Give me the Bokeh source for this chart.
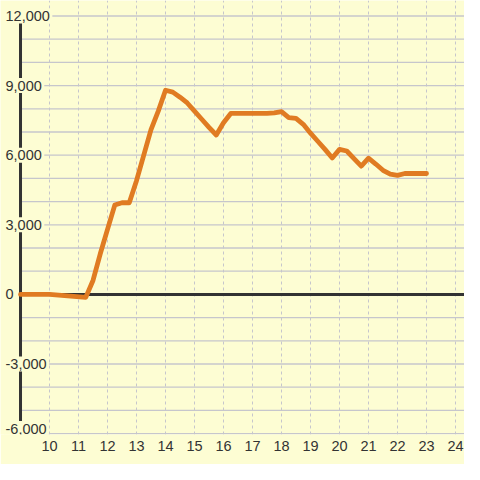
from bokeh.plotting import figure
from bokeh.models import Range1d, FixedTicker, LabelSet, ColumnDataSource
from bokeh.core.properties import value
from bokeh.embed import file_html
from bokeh.resources import INLINE

# ---- data ----
hours = [9, 10, 11.25, 11.5, 11.75, 12, 12.25, 12.5, 12.75, 13, 13.25, 13.5, 13.75,
         14, 14.25, 14.5, 14.75, 15, 15.25, 15.5, 15.75, 16, 16.25, 16.5, 16.75,
         17, 17.25, 17.5, 17.75, 18, 18.25, 18.5, 18.75, 19, 19.25, 19.5, 19.75,
         20, 20.25, 20.5, 20.75, 21, 21.25, 21.5, 21.75, 22, 22.25, 22.5, 22.75, 23]
values = [0, 0, -130, 600, 1750, 2800, 3850, 3950, 3950, 4900, 6000, 7100, 7900,
          8800, 8720, 8500, 8250, 7900, 7550, 7200, 6870, 7400, 7800, 7800, 7800,
          7800, 7800, 7800, 7820, 7880, 7620, 7590, 7330, 6950, 6600, 6250, 5880,
          6250, 6180, 5850, 5530, 5870, 5620, 5350, 5180, 5130, 5210, 5210, 5210, 5210]
y_ticks = [-6000, -3000, 0, 3000, 6000, 9000, 12000]
y_tick_labels = ["-6,000", "-3,000", "0", "3,000", "6,000", "9,000", "12,000"]
y_grid_step = 1000
x_ticks = list(range(10, 25))
x_tick_labels = [str(t) for t in x_ticks]

# ---- style ----
BG = "#fdfdd3"
GRID = "#c6c6cc"
DARK = "#333333"
ORANGE = "#e07b22"
FONT = "Liberation Sans"
FS = "14.5px"

W = H = 464
p = figure(width=W, height=H, output_backend="svg", toolbar_location=None,
           x_range=Range1d(8.31, 24.31), y_range=Range1d(-6040, 12668),
           min_border=0, min_border_bottom=30,
           background_fill_color=BG, border_fill_color=BG, outline_line_color=None)
p.yaxis.visible = False
p.ygrid.visible = False
p.xgrid.ticker = FixedTicker(ticks=x_ticks)
p.xgrid.grid_line_color = GRID
p.xgrid.grid_line_dash = "3 3"
p.xgrid.grid_line_width = 1

ax = p.xaxis[0]
ax.ticker = FixedTicker(ticks=x_ticks)
ax.major_label_overrides = {t: l for t, l in zip(x_ticks, x_tick_labels)}
ax.axis_line_color = None
ax.major_tick_line_color = None
ax.minor_tick_line_color = None
ax.major_tick_out = 0
ax.major_label_text_font = FONT
ax.major_label_text_font_size = FS
ax.major_label_text_color = DARK
ax.major_label_standoff = 6

x_axis_pos = hours[0]
x_end = p.x_range.end
grid_vals = list(range(y_ticks[0], y_ticks[-1] + 1, y_grid_step))

# horizontal grid lines
p.segment(x0=[x_axis_pos] * len(grid_vals), x1=[x_end] * len(grid_vals),
          y0=grid_vals, y1=grid_vals, line_color=GRID, line_width=1.3)
# y axis line
p.segment(x0=[x_axis_pos], x1=[x_axis_pos], y0=[y_ticks[0]], y1=[y_ticks[-1]],
          line_color=DARK, line_width=3)
# zero line
p.segment(x0=[x_axis_pos], x1=[x_end], y0=[0], y1=[0], line_color=DARK, line_width=3)

# data line
p.line(hours, values, line_color=ORANGE, line_width=4.8, line_join="round", line_cap="round")

# y tick labels
offs = [5 if t == min(y_ticks) else 0 for t in y_ticks]
src = ColumnDataSource(dict(y=y_ticks, text=y_tick_labels, off=offs))
labels = LabelSet(x=5, x_units="screen", y="y", text="text", y_offset="off", source=src,
                  text_align="left", text_baseline="middle",
                  text_font=value(FONT), text_font_size=value(FS), text_color=DARK,
                  background_fill_color=BG, border_line_color=BG, border_line_width=5)
p.add_layout(labels)

open("out.html", "w").write(file_html(p, INLINE))
